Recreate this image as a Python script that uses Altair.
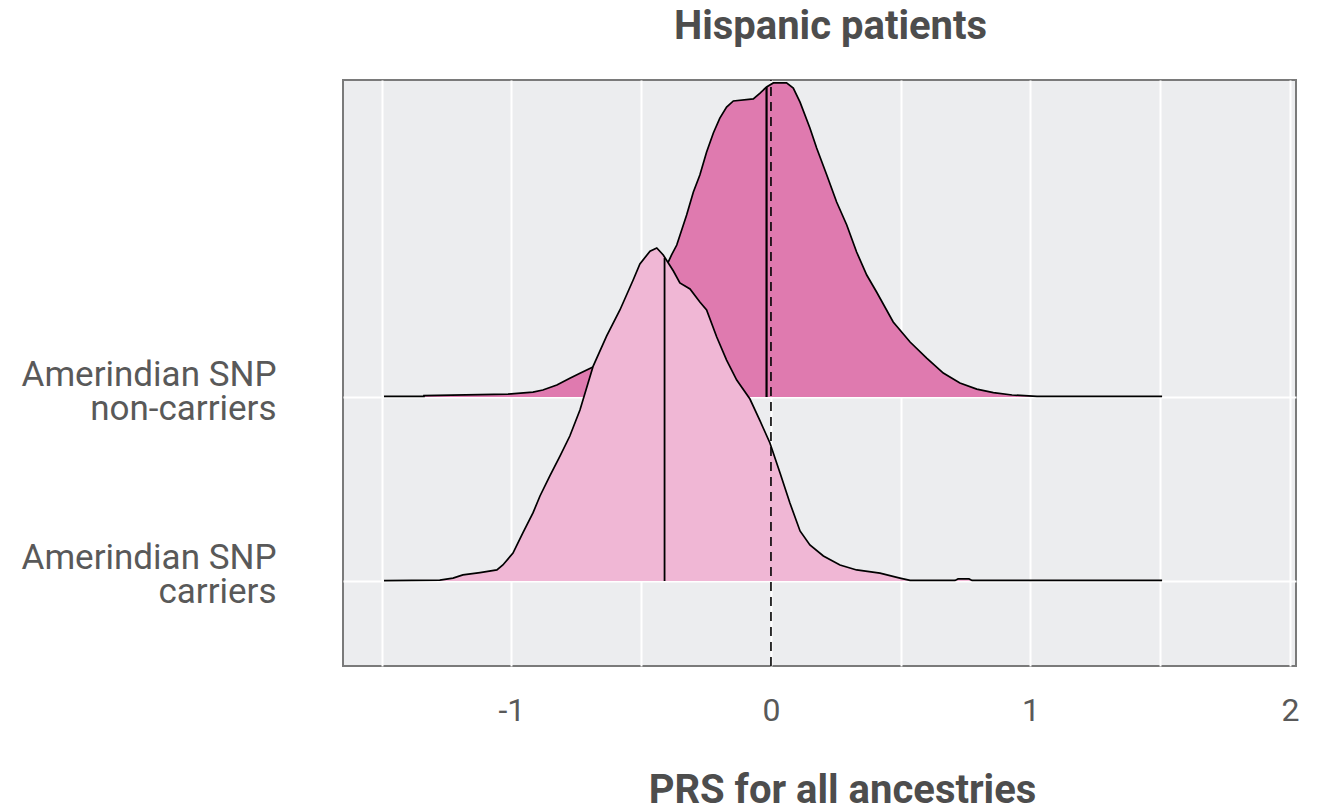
import altair as alt
import pandas as pd

# ---- data ----
# Ridge heights are given in units of the spacing between the two ridges.
nc_prs = [-1.491, -1.337, -1.337, -1.013, -0.917, -0.879, -0.825, -0.775, -0.736, -0.686,
          -0.620, -0.543, -0.466, -0.408, -0.383, -0.363, -0.325, -0.299, -0.274, -0.248,
          -0.222, -0.197, -0.171, -0.145, -0.068, -0.042, -0.017, 0.009, 0.060, 0.086,
          0.112, 0.150, 0.176, 0.215, 0.253, 0.292, 0.330, 0.369, 0.407, 0.471,
          0.536, 0.600, 0.664, 0.728, 0.793, 0.857, 0.929, 1.025, 1.507]
nc_height = [0.003, 0.003, 0.008, 0.016, 0.027, 0.038, 0.065, 0.102, 0.129, 0.163,
             0.228, 0.353, 0.543, 0.696, 0.772, 0.826, 0.989, 1.114, 1.207, 1.332,
             1.435, 1.516, 1.576, 1.609, 1.620, 1.652, 1.685, 1.707, 1.707, 1.679,
             1.603, 1.462, 1.353, 1.207, 1.060, 0.935, 0.788, 0.663, 0.571, 0.408,
             0.299, 0.212, 0.130, 0.076, 0.043, 0.024, 0.011, 0.003, 0.003]

c_prs = [-1.491, -1.276, -1.225, -1.187, -1.121, -1.056, -1.033, -0.994, -0.956, -0.917,
         -0.890, -0.852, -0.813, -0.775, -0.736, -0.685, -0.633, -0.582, -0.531, -0.505,
         -0.466, -0.440, -0.415, -0.376, -0.351, -0.312, -0.274, -0.248, -0.209, -0.171,
         -0.132, -0.081, -0.042, -0.004, 0.035, 0.073, 0.112, 0.150, 0.202, 0.266,
         0.330, 0.420, 0.497, 0.536, 0.709, 0.721, 0.763, 0.775, 1.507]
c_height = [0.002, 0.005, 0.016, 0.033, 0.046, 0.060, 0.087, 0.152, 0.261, 0.370,
            0.462, 0.571, 0.679, 0.788, 0.929, 1.168, 1.332, 1.473, 1.636, 1.723,
            1.793, 1.810, 1.772, 1.685, 1.620, 1.587, 1.516, 1.473, 1.326, 1.201,
            1.092, 0.989, 0.870, 0.750, 0.587, 0.424, 0.272, 0.196, 0.136, 0.087,
            0.060, 0.043, 0.016, 0.003, 0.003, 0.011, 0.011, 0.003, 0.003]

groups = ["Amerindian SNP non-carriers", "Amerindian SNP carriers"]
group_pos = [1, 0]
medians = [-0.017, -0.41]
median_heights = [1.685, 1.755]
ref_line = [0.0]
x_ticks = [-1.5, -1.0, -0.5, 0.0, 0.5, 1.0, 1.5, 2.0]

# ---- tables ----
nc_df = pd.DataFrame({"prs": nc_prs, "base": group_pos[0],
                      "top": [group_pos[0] + h for h in nc_height]})
c_df = pd.DataFrame({"prs": c_prs, "base": group_pos[1],
                     "top": [group_pos[1] + h for h in c_height]})
med_df = pd.DataFrame({"prs": medians, "base": group_pos,
                       "top": [b + h for b, h in zip(group_pos, median_heights)]})
ref_df = pd.DataFrame({"prs": ref_line, "lo": [-0.462], "hi": [2.723]})

FONT = "Roboto"
TXT = "#595959"
x_scale = alt.Scale(domain=[-1.649, 2.023], nice=False, zero=False)
y_scale = alt.Scale(domain=[-0.462, 2.723], nice=False, zero=False)

x_axis = alt.Axis(values=x_ticks, title="PRS for all ancestries",
                  labelExpr="datum.value % 1 == 0 ? '' + datum.value : ''",
                  grid=True, gridColor="white", gridWidth=2, ticks=False, tickSize=0,
                  domain=False, labelFlush=False, labelFont=FONT, labelFontSize=32,
                  labelColor=TXT, labelBaseline="alphabetic", labelPadding=54,
                  titleFont=FONT, titleFontSize=40, titleFontWeight="bold",
                  titleColor="#4d4d4d", titleX=499, titleY=136,
                  titleBaseline="alphabetic", titleAlign="center")
y_axis = alt.Axis(values=group_pos, title=None,
                  labelExpr="datum.value == 1 ? ['Amerindian SNP', 'non-carriers'] : ['Amerindian SNP', 'carriers']",
                  grid=True, gridColor="white", gridWidth=2, ticks=False, tickSize=0,
                  domain=False, labelFont=FONT, labelFontSize=35, labelColor=TXT,
                  labelAlign="right", labelBaseline="middle", labelPadding=67,
                  labelLineHeight=34, labelFlush=False, labelLimit=500,
                  labelOffset=-23, labelOverlap=False)

XE = alt.X("prs:Q", scale=x_scale, axis=x_axis)


def ridge(df, color):
    ye = alt.Y("top:Q", scale=y_scale, axis=y_axis)
    area = alt.Chart(df).mark_area(color=color, opacity=1, interpolate="linear").encode(
        x=XE, y=ye, y2="base:Q")
    line = alt.Chart(df).mark_line(color="black", strokeWidth=1.7).encode(x=XE, y=ye)
    return area, line


nc_area, nc_line = ridge(nc_df, "#DF7AAF")
c_area, c_line = ridge(c_df, "#F0B7D5")

YB = alt.Y("base:Q", scale=y_scale, axis=y_axis)
nc_med = alt.Chart(med_df.iloc[[0]]).mark_rule(color="black", strokeWidth=2.2).encode(
    x=XE, y=YB, y2="top:Q")
c_med = alt.Chart(med_df.iloc[[1]]).mark_rule(color="black", strokeWidth=1.8).encode(
    x=XE, y=YB, y2="top:Q")
ref = alt.Chart(ref_df).mark_rule(color="black", strokeWidth=1.6, strokeDash=[9, 6]).encode(
    x=XE, y=alt.Y("lo:Q", scale=y_scale, axis=y_axis), y2="hi:Q")

chart = alt.layer(nc_area, nc_line, nc_med, c_area, c_line, c_med, ref).properties(
    width=953, height=586,
    title=alt.TitleParams("Hispanic patients", font=FONT, fontSize=40, fontWeight="bold",
                          color="#4d4d4d", anchor="middle", dx=11, offset=0,
                          baseline="alphabetic"),
    autosize=alt.AutoSizeParams(type="none"),
    padding={"left": 335, "top": 72, "right": 30, "bottom": 140},
).configure_view(fill="#ECEDEF", stroke="#7A7A7A", strokeWidth=2)

chart.save("out.html", embed_options={"renderer": "svg", "actions": False})
